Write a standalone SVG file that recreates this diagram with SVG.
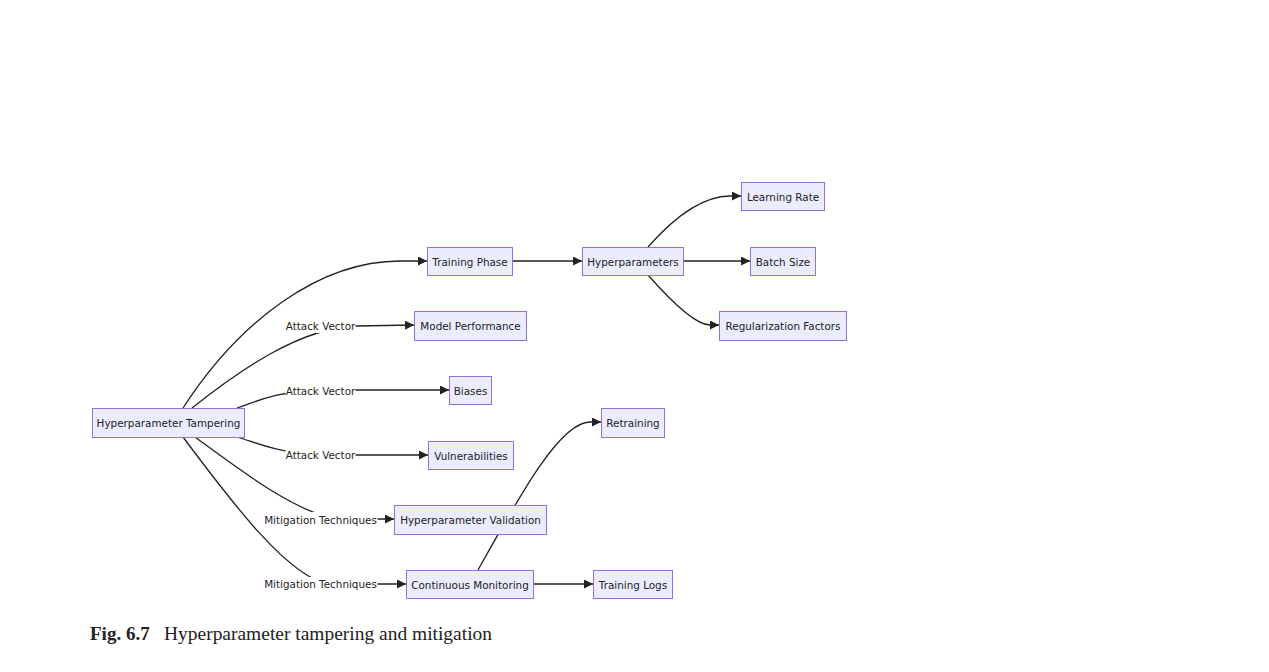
<svg xmlns="http://www.w3.org/2000/svg" width="1269" height="672" viewBox="0 0 1269 672">
<style>
.node rect{fill:#ECECFF;stroke:#9370DB;stroke-width:1}
.node text,.elabel text{font-family:"DejaVu Sans",Verdana,sans-serif;font-size:10.4px;fill:#222;text-anchor:middle;dominant-baseline:central}
.edge{fill:none;stroke:#222;stroke-width:1.3}
.elabel rect{fill:#fff;stroke:none}
.cap{font-family:"Liberation Serif","Times New Roman",serif;font-size:18px;fill:#222}
.capb{font-size:19px;font-weight:bold}
</style>
<defs>
<marker id="arr" viewBox="0 0 10 10" refX="10" refY="5" markerUnits="userSpaceOnUse" markerWidth="10" markerHeight="9" orient="auto">
<path d="M0,0 L10,5 L0,10 z" fill="#222"/>
</marker>
</defs>
<rect width="1269" height="672" fill="#fff"/>
<g id="connectors">
<path class="edge" d="M183,408 C240,320 320,261 400,261 L427,261" marker-end="url(#arr)"/>
<path class="edge" d="M192,408 C240,370 300,328 356,326 L414,325" marker-end="url(#arr)"/>
<path class="edge" d="M237,408 C260,400 280,391 320,390 L449,390" marker-end="url(#arr)"/>
<path class="edge" d="M237,437 C260,444 280,453 320,455 L428,455" marker-end="url(#arr)"/>
<path class="edge" d="M195,437 C240,470 300,516 340,519 L394,519" marker-end="url(#arr)"/>
<path class="edge" d="M183,437 C230,500 290,580 330,584 L406,584" marker-end="url(#arr)"/>
<path class="edge" d="M513,261 L582,261" marker-end="url(#arr)"/>
<path class="edge" d="M648,247 C670,222 700,196 730,196 L741,196" marker-end="url(#arr)"/>
<path class="edge" d="M683,261 L750,261" marker-end="url(#arr)"/>
<path class="edge" d="M648,275 C670,300 695,325 710,325 L719,325" marker-end="url(#arr)"/>
<path class="edge" d="M478,570 C520,495 560,422 590,422 L601,422" marker-end="url(#arr)"/>
<path class="edge" d="M533,584 L593,584" marker-end="url(#arr)"/>
<g class="elabel"><rect x="285.5" y="318" width="70" height="15"/><text x="320.5" y="325.5">Attack Vector</text></g>
<g class="elabel"><rect x="285.5" y="383" width="70" height="15"/><text x="320.5" y="390.5">Attack Vector</text></g>
<g class="elabel"><rect x="285.5" y="448" width="70" height="15"/><text x="320.5" y="455">Attack Vector</text></g>
<g class="elabel"><rect x="263.5" y="512" width="114" height="15"/><text x="320.5" y="519.5">Mitigation Techniques</text></g>
<g class="elabel"><rect x="263.5" y="577" width="114" height="15"/><text x="320.5" y="584">Mitigation Techniques</text></g>
</g>
<g id="n-tampering" class="node"><rect x="92.5" y="408.5" width="152" height="29"/><text x="168.5" y="423">Hyperparameter Tampering</text></g>
<g id="n-training" class="node"><rect x="427.5" y="247.5" width="85" height="28"/><text x="470" y="261.5">Training Phase</text></g>
<g id="n-model" class="node"><rect x="414.5" y="311.5" width="112" height="29"/><text x="470.5" y="326">Model Performance</text></g>
<g id="n-biases" class="node"><rect x="449.5" y="376.5" width="42" height="28"/><text x="470.5" y="390.5">Biases</text></g>
<g id="n-vuln" class="node"><rect x="428.5" y="441.5" width="85" height="28"/><text x="471" y="455.5">Vulnerabilities</text></g>
<g id="n-validation" class="node"><rect x="394.5" y="505.5" width="152" height="29"/><text x="470.5" y="520">Hyperparameter Validation</text></g>
<g id="n-monitoring" class="node"><rect x="406.5" y="570.5" width="127" height="28"/><text x="470" y="584.5">Continuous Monitoring</text></g>
<g id="n-hyper" class="node"><rect x="582.5" y="247.5" width="101" height="28"/><text x="633" y="261.5">Hyperparameters</text></g>
<g id="n-retraining" class="node"><rect x="601.5" y="408.5" width="63" height="29"/><text x="633" y="423">Retraining</text></g>
<g id="n-logs" class="node"><rect x="593.5" y="570.5" width="79" height="28"/><text x="633" y="584.5">Training Logs</text></g>
<g id="n-lr" class="node"><rect x="741.5" y="182.5" width="83" height="28"/><text x="783" y="196.5">Learning Rate</text></g>
<g id="n-batch" class="node"><rect x="750.5" y="247.5" width="65" height="28"/><text x="783" y="261.5">Batch Size</text></g>
<g id="n-reg" class="node"><rect x="719.5" y="311.5" width="127" height="29"/><text x="783" y="326">Regularization Factors</text></g>
<text class="cap capb" x="90" y="640">Fig. 6.7</text>
<text class="cap" x="164" y="640" textLength="328" lengthAdjust="spacingAndGlyphs">Hyperparameter tampering and mitigation</text>
</svg>
